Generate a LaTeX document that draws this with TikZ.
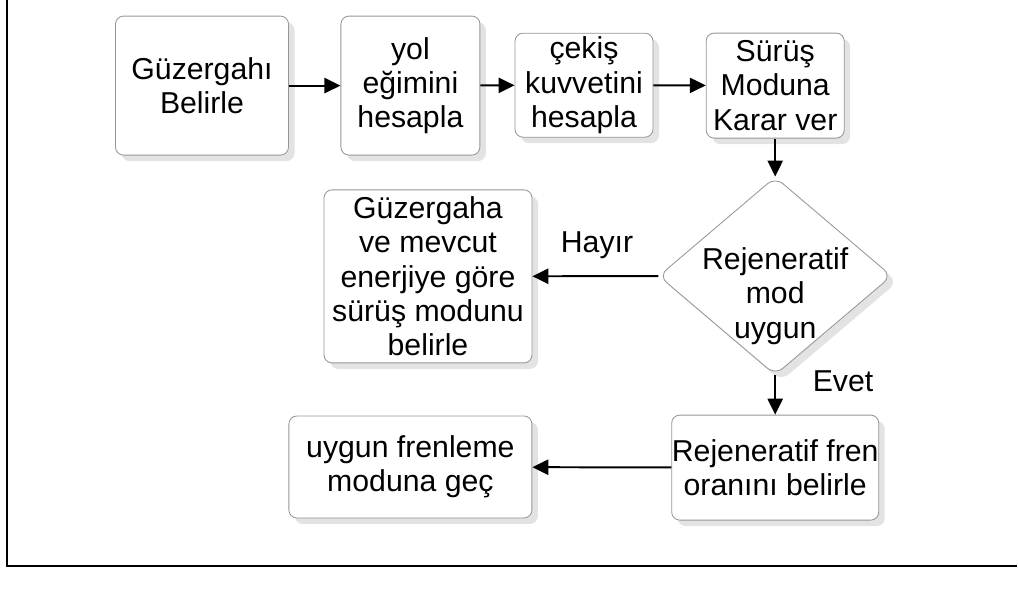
\documentclass[tikz,border=0pt]{standalone}
\usepackage{fontspec}
\setmainfont{Liberation Sans}
\usepackage{tikz}
\usetikzlibrary{arrows.meta,shapes,positioning,shadows}
\usepackage{xcolor}
\definecolor{flborder}{RGB}{150,150,150}
\definecolor{flshadow}{RGB}{200,200,200}
\definecolor{flline}{RGB}{0,0,0}
\tikzstyle{process} = [rectangle, rounded corners=0.2cm, draw=flborder, fill=white, line width=0.6pt, align=center, inner sep=0pt, drop shadow={shadow xshift=0.15cm, shadow yshift=-0.15cm, fill=flshadow, opacity=0.5}]
\tikzstyle{decision} = [diamond, rounded corners=0.25cm, draw=flborder, fill=white, line width=0.6pt, inner sep=0pt, drop shadow={shadow xshift=0.15cm, shadow yshift=-0.15cm, fill=flshadow, opacity=0.5}]
\tikzstyle{arrow} = [line width=1.4pt,-{Triangle[length=0.4cm,width=0.38cm]},color=flline]

\begin{document}
\begin{tikzpicture}[font=\fontsize{21.5}{24.4}\selectfont]
    \useasboundingbox (0,0) rectangle (25.45,14.85);

    % Frame
    \coordinate (ftop) at (0.175,14.85);
    \coordinate (fcorner) at (0.175,0.7);
    \coordinate (fright) at (25.425,0.7);
    \draw[line width=1.8pt] (ftop) -- (fcorner) -- (fright);

    % Top row
    \node[process, minimum width=4.325cm, minimum height=3.475cm] (guz) at (5.05,12.71) {Güzergahı\\Belirle};
    \node[process, minimum width=3.475cm, minimum height=3.475cm] (egim) at (10.26,12.71) {yol\\eğimini\\hesapla};
    \node[process, minimum width=3.45cm, minimum height=2.6cm] (cekis) at (14.6,12.72) {çekiş\\kuvvetini\\hesapla};
    \node[process, minimum width=3.45cm, minimum height=2.625cm] (karar) at (19.38,12.71) {Sürüş\\Moduna\\Karar ver};

    % Decision
    \node[decision, minimum width=5.825cm, minimum height=4.95cm] (mod) at (19.38,7.95) {};
    \node[align=center, inner sep=0pt] (modtxt) at ([yshift=-0.5cm]mod.center) {Rejeneratif\\mod\\uygun};

    % Outcomes
    \node[process, minimum width=5.2cm, minimum height=4.325cm] (surus) at (10.7,7.94) {Güzergaha\\ve mevcut\\enerjiye göre\\sürüş modunu\\belirle};
    \node[process, minimum width=5.175cm, minimum height=2.625cm] (oran) at (19.38,3.16) {Rejeneratif fren\\oranını belirle};
    \node[process, minimum width=6.075cm, minimum height=2.55cm] (gec) at (10.26,3.175) {uygun frenleme\\moduna geç};

    % Labels
    \node (hayir) at (14.925,8.725) {Hayır};
    \node (evet) at (21.075,5.325) {Evet};

    % Connecting arrows
    \draw[arrow] (guz) -- (egim);
    \draw[arrow] (egim) -- (cekis);
    \draw[arrow] (cekis) -- (karar);
    \draw[arrow] (karar) -- (mod);
    \draw[arrow] (mod) -- (surus);
    \draw[arrow] (mod) -- (oran);
    \draw[arrow] (oran) -- (gec);
\end{tikzpicture}
\end{document}
